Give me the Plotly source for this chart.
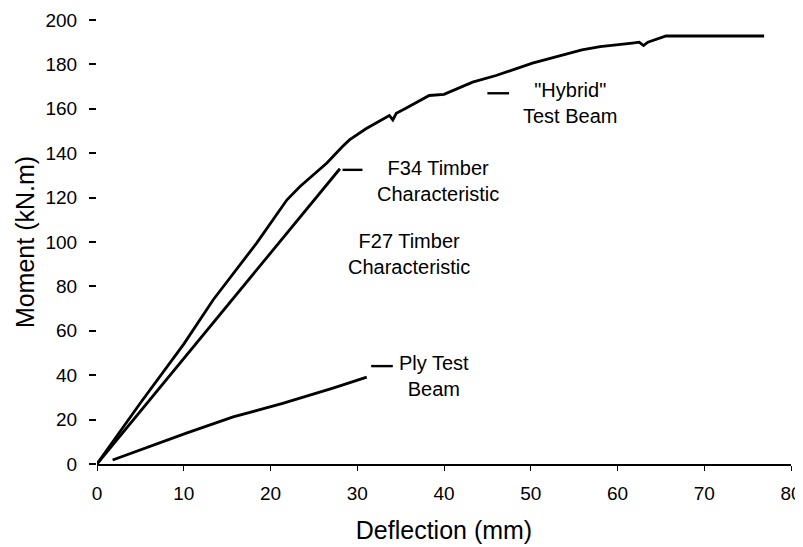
import plotly.graph_objects as go

# Hybrid test beam (deflection mm, moment kN.m)
hybrid_x = [0, 2, 5, 10, 13.4, 18.4, 21.9, 23.4, 26.5, 28.3, 29.1, 31, 33.7, 34.1, 34.5, 35.5,
            38.3, 40, 43.3, 46, 50.2, 55.9, 58, 61.7, 62.5, 63, 63.5, 65.6, 70, 76.9]
hybrid_y = [0, 11, 27.5, 54, 74, 99.5, 119, 125, 135.6, 143, 146, 151, 157, 155, 158, 160,
            166, 166.5, 172, 175, 180.6, 186.5, 188, 189.6, 190, 188.5, 190, 192.8, 192.8, 192.8]

# F34 timber characteristic
f34_x = [0, 28.0]
f34_y = [0, 133]

# Ply test beam
ply_x = [1.8, 4.9, 10.3, 15.7, 21.4, 27.2, 31.1]
ply_y = [1.8, 6.3, 13.9, 21.2, 27.3, 34.2, 39.1]

# Label markers (short dashes) and label texts
marker_x0 = [28.3, 31.6, 45.0]
marker_x1 = [30.6, 34.1, 47.5]
marker_y = [132.5, 44.1, 167.0]
label_text = ["F34 Timber<br>Characteristic", "Ply Test<br>Beam", "\"Hybrid\"<br>Test Beam",
              "F27 Timber<br>Characteristic"]
label_x = [39.3, 38.8, 54.5, 36.0]
label_y = [127.5, 39.5, 162.5, 94.5]

x_ticks = [0, 10, 20, 30, 40, 50, 60, 70, 80]
y_ticks = [0, 20, 40, 60, 80, 100, 120, 140, 160, 180, 200]

line_style = dict(color="black", width=2.8)
FONT = "Liberation Sans, Arial"

fig = go.Figure()
fig.add_trace(go.Scatter(x=hybrid_x, y=hybrid_y, mode="lines", line=line_style, showlegend=False))
fig.add_trace(go.Scatter(x=f34_x, y=f34_y, mode="lines", line=line_style, showlegend=False))
fig.add_trace(go.Scatter(x=ply_x, y=ply_y, mode="lines", line=line_style, showlegend=False))

for x0, x1, y in zip(marker_x0, marker_x1, marker_y):
    fig.add_trace(go.Scatter(x=[x0, x1], y=[y, y], mode="lines",
                             line=dict(color="black", width=2.4), showlegend=False))

for t, x, y in zip(label_text, label_x, label_y):
    fig.add_annotation(x=x, y=y, text=t, showarrow=False, xanchor="center", yanchor="middle",
                       font=dict(family=FONT, size=20, color="black"))

# the page adds an 8px body margin, so the figure is sized to fit the window
fig.update_layout(
    width=795, height=539,
    margin=dict(l=89, r=12, t=12, b=83),
    paper_bgcolor="white", plot_bgcolor="white",
    font=dict(family=FONT, color="black"),
    showlegend=False,
)
fig.update_xaxes(
    range=[0, 80], tickvals=x_ticks, showgrid=False, zeroline=False, automargin=False,
    showline=True, linecolor="black", linewidth=2,
    ticks="outside", ticklen=5, tickcolor="black", tickwidth=1,
    tickfont=dict(size=19), ticklabelstandoff=6,
    title=dict(text="Deflection (mm)", font=dict(size=25), standoff=19),
)
fig.update_yaxes(
    range=[0, 200], tickvals=y_ticks, showgrid=False, zeroline=False, automargin=False,
    showline=False,
    ticks="outside", ticklen=7, tickcolor="black", tickwidth=1.5,
    tickfont=dict(size=19), ticklabelstandoff=8,
    title=dict(text="Moment (kN.m)", font=dict(size=25), standoff=3),
)

fig.write_html("out.html")
